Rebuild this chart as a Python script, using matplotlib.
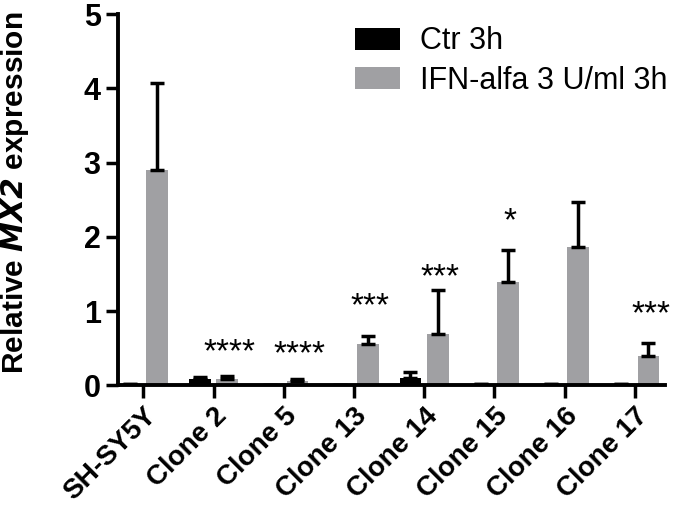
import numpy as np
import matplotlib.pyplot as plt

plt.rcParams['font.family'] = ['Liberation Sans', 'DejaVu Sans']

clones = ['SH-SY5Y', 'Clone 2', 'Clone 5', 'Clone 13', 'Clone 14', 'Clone 15', 'Clone 16', 'Clone 17']
ctr = [0.02, 0.08, 0.01, 0.01, 0.10, 0.02, 0.02, 0.02]
ctr_err = [0.0, 0.03, 0.0, 0.0, 0.08, 0.0, 0.0, 0.0]
ifn = [2.90, 0.09, 0.06, 0.56, 0.69, 1.39, 1.86, 0.40]
ifn_err = [1.17, 0.03, 0.02, 0.10, 0.60, 0.43, 0.61, 0.17]
stars = ['', '****', '****', '***', '***', '*', '', '***']
star_y = [0, 0.51, 0.48, 1.13, 1.52, 2.27, 0, 1.02]

fig = plt.figure(figsize=(6.75, 5.07), dpi=100)
ax = fig.add_axes([0.175, 0.24, 0.81, 0.732])

x = np.arange(len(clones))
w = 0.31
gap = 0.04
xc = x - w / 2 - gap
xi = x + w / 2 + gap

ax.bar(xc, ctr, w, color='black', label='Ctr 3h')
ax.errorbar(xc, ctr, yerr=[np.zeros(len(ctr)), ctr_err], fmt='none', ecolor='black',
            elinewidth=2.5, capsize=5, capthick=2.5)
ax.bar(xi, ifn, w, color='#a0a0a3', label='IFN-alfa 3 U/ml 3h')
ax.errorbar(xi, ifn, yerr=[np.zeros(len(ifn)), ifn_err], fmt='none', ecolor='black',
            elinewidth=2.5, capsize=5, capthick=2.5)

# significance stars (asterisk glyph sits high in its box, so nudge down)
for i, s in enumerate(stars):
    if s:
        ax.text(xi[i] + 0.03, star_y[i] - 0.07, s, ha='center', va='center', fontsize=24)

ax.set_ylim(0, 5)
ax.set_xlim(-0.36, 7.43)
ax.set_yticks([0, 1, 2, 3, 4, 5])
ax.set_xticks(x)
ax.set_xticklabels(clones, rotation=45, ha='right', rotation_mode='anchor', fontweight='bold', fontsize=20)
ax.tick_params(axis='y', labelsize=22, width=2.5, length=9)
ax.tick_params(axis='x', width=2.5, length=9)
for lab in ax.get_yticklabels():
    lab.set_fontweight('bold')
ax.set_ylabel('Relative $\\bfit{MX2}$ expression', fontweight='bold', fontsize=21.5)
ax.yaxis.set_label_coords(-0.16, 0.52)

for sp in ['top', 'right']:
    ax.spines[sp].set_visible(False)
for sp in ['left', 'bottom']:
    ax.spines[sp].set_linewidth(2.8)

ax.legend(loc='upper left', bbox_to_anchor=(0.433, 0.967), frameon=False, fontsize=22,
          borderpad=0, borderaxespad=0, handlelength=1.47, handleheight=0.72,
          handletextpad=0.65, labelspacing=0.3)

fig.savefig('out.png', dpi=100)
